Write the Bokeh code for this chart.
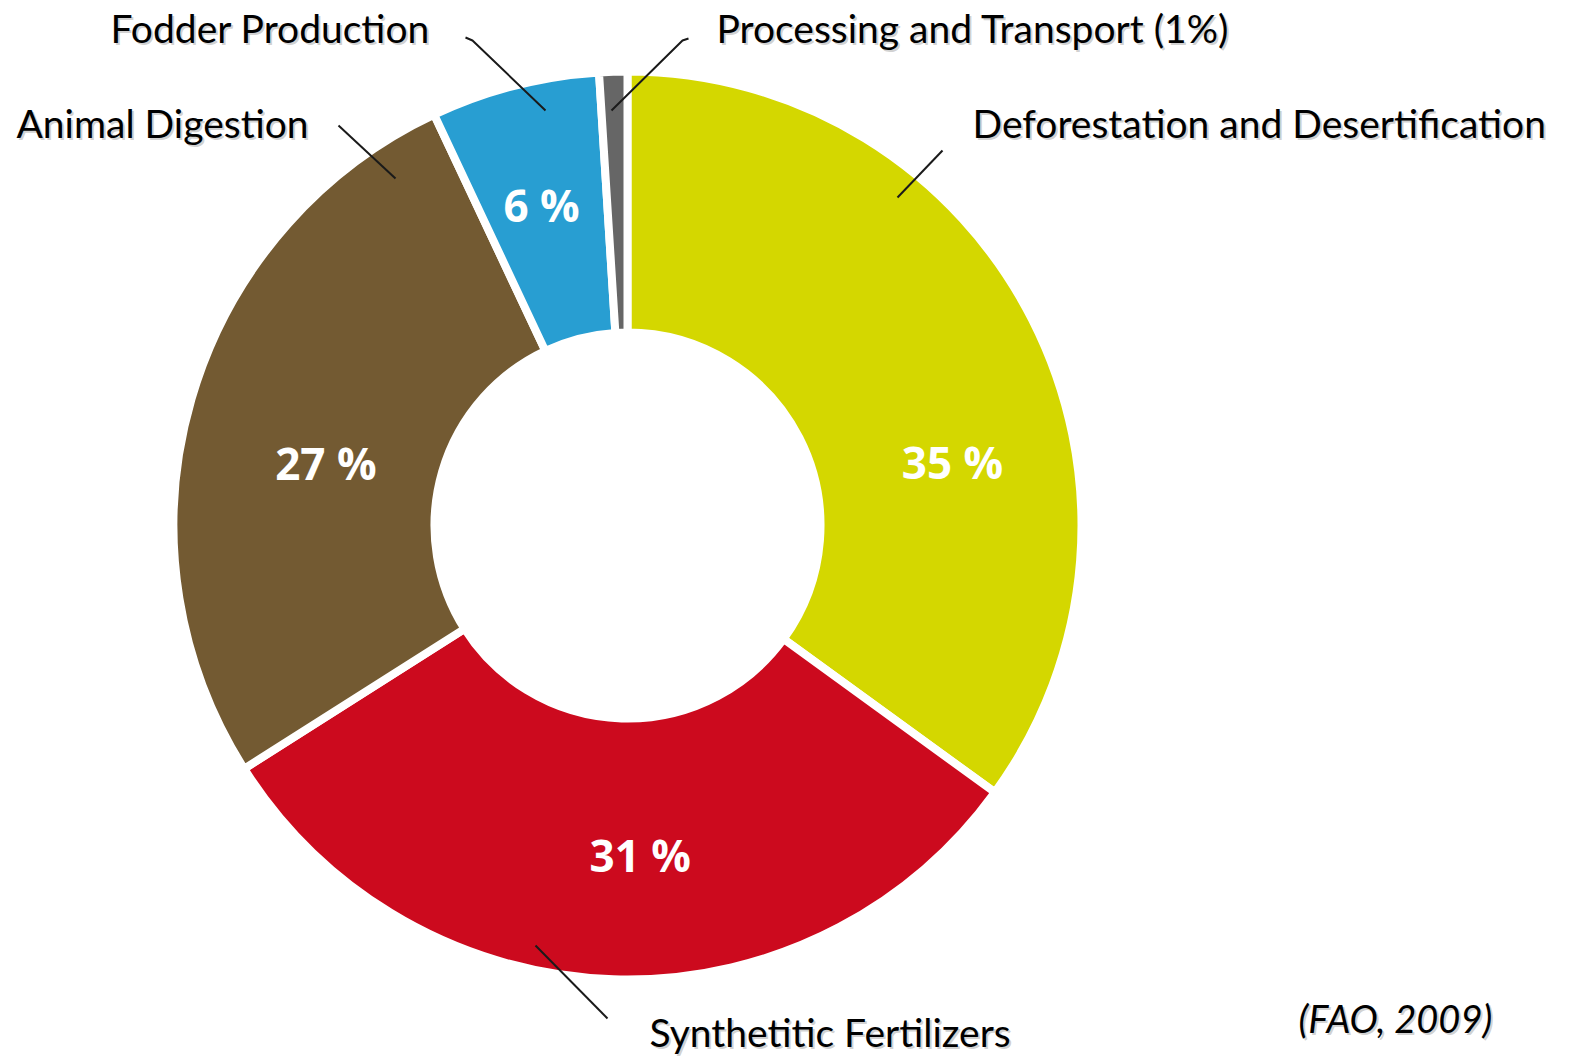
import math
from bokeh.plotting import figure
from bokeh.models import Range1d, ColumnDataSource
from bokeh.core.properties import value
from bokeh.embed import file_html
from bokeh.resources import INLINE

# ---------------- data ----------------
categories = ["Deforestation and Desertification", "Synthetitic Fertilizers",
              "Animal Digestion", "Fodder Production", "Processing and Transport (1%)"]
shares = [35, 31, 27, 6, 1]
pct_labels = ["35 %", "31 %", "27 %", "6 %", ""]
colors = ["#D4D700", "#CC0A1E", "#735A32", "#289ED2", "#666666"]
source_note = "(FAO, 2009)"

# ---------------- layout ----------------
W, H = 1571, 1059
def Y(ys):  # screen y (from top of picture) -> data y
    return H - ys

CX, CY = 627, Y(525)
R_OUT, R_IN = 454, 193

p = figure(width=W, height=H, output_backend="svg", toolbar_location=None,
           x_range=Range1d(0, W), y_range=Range1d(0, H),
           x_axis_location=None, y_axis_location=None,
           min_border=0, outline_line_color=None)
p.grid.visible = False
p.background_fill_color = "white"
p.border_fill_color = "white"

total = float(sum(shares))
starts, ends, cum = [], [], 0.0
for s in shares:
    a0 = cum / total * 2 * math.pi
    cum += s
    a1 = cum / total * 2 * math.pi
    starts.append(math.pi / 2 - a0)
    ends.append(math.pi / 2 - a1)

src = ColumnDataSource(dict(start=starts, end=ends, color=colors))
p.annular_wedge(x=CX, y=CY, inner_radius=R_IN, outer_radius=R_OUT,
                start_angle="start", end_angle="end", direction="clock",
                fill_color="color", line_color="white", line_width=8, source=src)

# percentage labels: angle offset (deg, clockwise) from slice mid-angle, and radius
label_shift_deg = [16, -4, -4.5, -0.6, 0]
label_radius = [331, 330, 308, 332, 0]
lx, ly, lt = [], [], []
cum = 0.0
for s, t, sh, rr in zip(shares, pct_labels, label_shift_deg, label_radius):
    mid = (cum + s / 2) / total * 360 + sh
    cum += s
    if not t:
        continue
    a = math.radians(mid)
    lx.append(CX + rr * math.sin(a))
    ly.append(CY + rr * math.cos(a))
    lt.append(t)
p.text(x=lx, y=ly, text=lt, text_color="white", text_font=value("Open Sans"),
       text_font_style="bold", text_font_size="44px", text_align="center",
       text_baseline="middle")

# leader lines (picture pixel points)
leaders = [
    [(897, 197), (942, 150)],
    [(535, 945), (607, 1018)],
    [(395, 178), (338, 125)],
    [(545, 110), (472, 40), (465, 37)],
    [(611, 110), (682, 40), (688, 38)],
]
for pts in leaders:
    p.line(x=[q[0] for q in pts], y=[Y(q[1]) for q in pts], line_color="#1a1a1a", line_width=2)

# category labels: (left x, vertical middle y)
cat_pos = [
    (972, 122),
    (649, 1031),
    (16, 122),
    (110, 27),
    (716, 27),
]
for name, (x, ym) in zip(categories, cat_pos):
    p.text(x=[x + 2], y=[Y(ym) - 2], text=[name], text_color="#999999", text_alpha=0.45,
           text_font=value("Lato"), text_font_size="39px", text_align="left",
           text_baseline="middle")
    p.text(x=[x], y=[Y(ym)], text=[name], text_color="black",
           text_font=value("Lato"), text_font_size="39px", text_align="left",
           text_baseline="middle")

p.text(x=[1300], y=[Y(1017) - 2], text=[source_note], text_color="#999999", text_alpha=0.45,
       text_font=value("Lato"), text_font_style="italic", text_font_size="38px",
       text_align="left", text_baseline="middle")
p.text(x=[1298], y=[Y(1017)], text=[source_note], text_color="black",
       text_font=value("Lato"), text_font_style="italic", text_font_size="38px",
       text_align="left", text_baseline="middle")

open("out.html", "w").write(file_html(p, INLINE))
